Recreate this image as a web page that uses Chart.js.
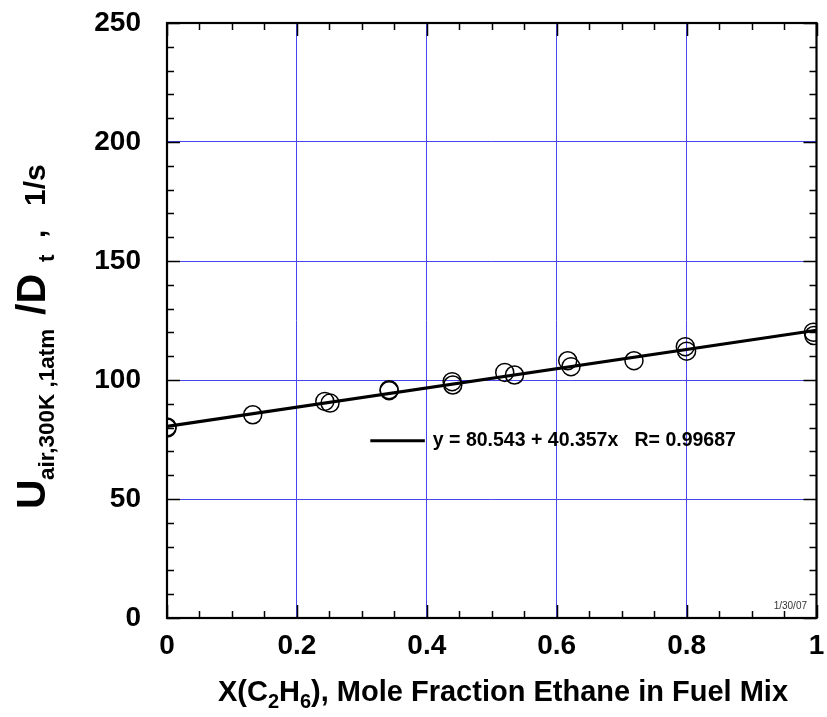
<!DOCTYPE html>
<html>
<head>
<meta charset="utf-8">
<script src="https://cdn.jsdelivr.net/npm/chart.js@4.4.1/dist/chart.umd.min.js"></script>
<style>
  html, body { margin: 0; padding: 0; background: #fff; }
  #wrap { width: 827px; height: 717px; }
</style>
</head>
<body>
<div id="wrap"><canvas id="myChart" width="827" height="717"></canvas></div>
<script>
const xVals = [0, 0, 0.132, 0.243, 0.251, 0.342, 0.342, 0.439, 0.44, 0.52, 0.535, 0.617, 0.622, 0.719, 0.798, 0.8, 0.995, 0.996];
const yVals = [80.3, 79.8, 85.4, 91.0, 90.3, 95.5, 95.9, 99.3, 97.9, 103.2, 102.1, 108.1, 105.6, 108.1, 114.0, 112.1, 120.1, 118.7];
// least squares fit printed on the figure
const fitA = 80.543;
const fitB = 40.357;
const fitR = 0.99687;
const xTicks = [0, 0.2, 0.4, 0.6, 0.8, 1];
const yTicks = [0, 50, 100, 150, 200, 250];

const FONT = '"Liberation Sans", Arial, sans-serif';
const gridBlue = 'rgb(70,70,240)';

const points = xVals.map((x, i) => ({x: x, y: yVals[i]}));
const fitLine = [{x: 0, y: fitA}, {x: 1, y: fitA + fitB}];

// inward ticks on all four sides, frame, titles and the fit label
const decor = {
    id: 'decor',
    afterDraw(chart) {
        const ctx = chart.ctx;
        const xs = chart.scales.x, ys = chart.scales.y;
        const a = chart.chartArea;
        ctx.save();
        ctx.strokeStyle = '#000';
        ctx.lineWidth = 1.5;
        for (let v = 0; v <= 1.0001; v += 0.05) {
            const px = Math.round(xs.getPixelForValue(v)) + 0.5;
            const major = Math.abs(v * 5 - Math.round(v * 5)) < 1e-6;
            const len = major ? 13 : 7;
            ctx.beginPath();
            ctx.moveTo(px, a.bottom); ctx.lineTo(px, a.bottom - len);
            ctx.moveTo(px, a.top); ctx.lineTo(px, a.top + len);
            ctx.stroke();
        }
        for (let v = 0; v <= 250; v += 10) {
            const py = Math.round(ys.getPixelForValue(v)) + 0.5;
            const major = v % 50 === 0;
            const len = major ? 13 : 7;
            ctx.beginPath();
            ctx.moveTo(a.left, py); ctx.lineTo(a.left + len, py);
            ctx.moveTo(a.right, py); ctx.lineTo(a.right - len, py);
            ctx.stroke();
        }
        ctx.lineWidth = 2.2;
        ctx.strokeRect(a.left, a.top, a.right - a.left, a.bottom - a.top);

        // fit label
        const lx0 = xs.getPixelForValue(0.313), lx1 = xs.getPixelForValue(0.397);
        const ly = ys.getPixelForValue(74.5);
        ctx.lineWidth = 3;
        ctx.beginPath(); ctx.moveTo(lx0, ly); ctx.lineTo(lx1, ly); ctx.stroke();
        ctx.fillStyle = '#000';
        ctx.font = 'bold 19.5px ' + FONT;
        ctx.textBaseline = 'middle';
        ctx.textAlign = 'left';
        ctx.fillText('y = ' + fitA + ' + ' + fitB + 'x   R= ' + fitR, lx1 + 8, ly);

        // date stamp
        ctx.font = '10px ' + FONT;
        ctx.fillStyle = '#333';
        ctx.textAlign = 'right';
        ctx.textBaseline = 'alphabetic';
        ctx.fillText('1/30/07', 807, 609);

        // x title with subscripts
        ctx.fillStyle = '#000';
        ctx.textAlign = 'left';
        const xParts = [['X(C', 29, 0], ['2', 20, 7], ['H', 29, 0], ['6', 20, 7], ['), Mole Fraction Ethane in Fuel Mix', 29, 0]];
        let total = 0;
        xParts.forEach(p => { ctx.font = 'bold ' + p[1] + 'px ' + FONT; total += ctx.measureText(p[0]).width; });
        let cx = 503 - total / 2;
        xParts.forEach(p => {
            ctx.font = 'bold ' + p[1] + 'px ' + FONT;
            ctx.fillText(p[0], cx, 701 + p[2]);
            cx += ctx.measureText(p[0]).width;
        });

        // y title, rotated; [text, size, baseline x, start y]
        const yParts = [['U', 41, 45, 509], ['air,300K ,1atm', 22.5, 54, 480],
            ['/D', 41, 45, 315], ['t', 22.5, 54, 262], [',', 30, 45, 238], ['1/s', 30, 45, 206]];
        yParts.forEach(p => {
            ctx.save();
            ctx.translate(p[2], p[3]);
            ctx.rotate(-Math.PI / 2);
            ctx.font = 'bold ' + p[1] + 'px ' + FONT;
            ctx.fillText(p[0], 0, 0);
            ctx.restore();
        });
        ctx.restore();
    }
};

const ctx = document.getElementById('myChart');
// eslint-disable-next-line no-unused-vars
const myChart = new Chart(ctx, {
    type: 'scatter',
    data: {
        datasets: [{
            data: points,
            pointStyle: 'circle',
            pointRadius: 9,
            pointBorderWidth: 1.5,
            borderColor: '#000',
            backgroundColor: 'rgba(0,0,0,0)',
            order: 2
        }, {
            type: 'line',
            data: fitLine,
            borderColor: '#000',
            borderWidth: 3.2,
            pointRadius: 0,
            fill: false,
            order: 1
        }]
    },
    options: {
        responsive: false,
        animation: false,
        events: [],
        layout: { padding: { top: 23, right: 2, left: 0, bottom: 0 } },
        plugins: {
            legend: { display: false },
            tooltip: { enabled: false }
        },
        scales: {
            x: {
                type: 'linear',
                min: 0,
                max: 1,
                afterBuildTicks: s => { s.ticks = xTicks.map(v => ({value: v})); },
                afterFit: s => { s.height = 717 - 618; s.paddingLeft = 0; s.paddingRight = 0; },
                border: { display: false },
                grid: {
                    drawTicks: false,
                    lineWidth: 1,
                    color: xTicks.map(v => (v === 0 || v === 1) ? 'rgba(0,0,0,0)' : gridBlue)
                },
                ticks: {
                    color: '#000',
                    padding: 11,
                    font: { family: FONT, size: 28, weight: 'bold' },
                    callback: v => String(v)
                }
            },
            y: {
                type: 'linear',
                min: 0,
                max: 250,
                afterBuildTicks: s => { s.ticks = yTicks.map(v => ({value: v})); },
                afterFit: s => { s.width = 167; s.paddingTop = 0; s.paddingBottom = 0; },
                border: { display: false },
                grid: {
                    drawTicks: false,
                    lineWidth: 1,
                    color: yTicks.map(v => (v === 0 || v === 250) ? 'rgba(0,0,0,0)' : gridBlue)
                },
                ticks: {
                    color: '#000',
                    padding: 26,
                    font: { family: FONT, size: 28, weight: 'bold' }
                }
            }
        }
    },
    plugins: [decor]
})
</script>
</body>
</html>
